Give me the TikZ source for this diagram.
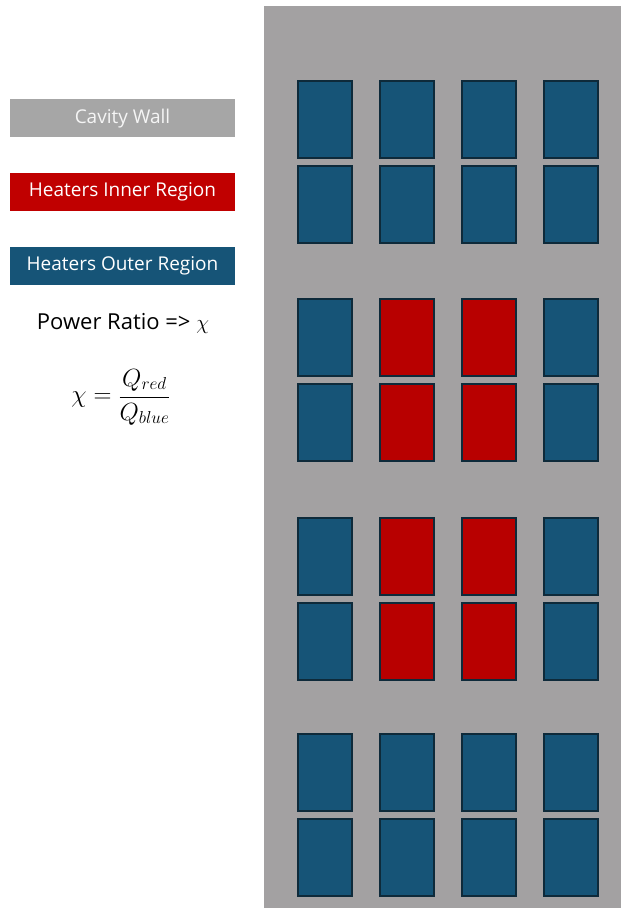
\documentclass[tikz,border=0pt]{standalone}
\usepackage{fontspec}
\setmainfont{Open Sans}
\definecolor{wallgray}{HTML}{A3A1A2}
\definecolor{leggray}{HTML}{A6A6A6}
\definecolor{outerblue}{HTML}{165477}
\definecolor{innerred}{HTML}{B80000}
\definecolor{legred}{HTML}{C00000}
\definecolor{edgedark}{HTML}{0E2A3A}

\begin{document}
\begin{tikzpicture}[x=1pt, y=-1pt,
    heater/.style = {draw=edgedark, line width=2.2pt, rectangle, minimum width=53.8pt, minimum height=76.8pt, inner sep=0pt},
    outer/.style = {heater, fill=outerblue},
    inner/.style = {heater, fill=innerred},
    legend/.style = {rectangle, minimum width=225pt, minimum height=38pt, inner sep=0pt, text=white, font=\fontsize{19}{22}\selectfont}]
    \useasboundingbox (0,0) rectangle (621,909);
    % cavity wall
    \fill[wallgray] (264,6) rectangle (621,908);
    % legend
    \node[legend, fill=leggray, text=white!92!gray] (wall) at (122.5,118.5) {Cavity Wall};
    \node[legend, fill=legred] (red) at (122.5,191.7) {Heaters Inner Region};
    \node[legend, fill=outerblue] (blue) at (122.5,266) {Heaters Outer Region};
    \node[font=\fontsize{22}{26}\selectfont] (ratio) at (123,323) {Power Ratio => $\chi$};
    \node[font=\fontsize{24}{28}\selectfont] (chi) at (121,397) {$\displaystyle \chi = \frac{Q_{red}}{Q_{blue}}$};
    % heaters: group, row, column
    \foreach \g/\gy in {1/80, 2/298, 3/517, 4/733} {
        \foreach \r in {1, 2} {
            \foreach \c/\cx in {1/297, 2/379, 3/461, 4/543} {
                \pgfmathsetmacro{\ty}{\gy + (\r-1)*85 + 39.5}
                \pgfmathsetmacro{\tx}{\cx + 28}
                \ifnum\g=2 \def\kind{inner}\else\ifnum\g=3 \def\kind{inner}\else\def\kind{outer}\fi\fi
                \ifnum\c=1 \def\kind{outer}\fi
                \ifnum\c=4 \def\kind{outer}\fi
                \node[\kind] (h\g\r\c) at (\tx,\ty) {};
            }
        }
    }
\end{tikzpicture}
\end{document}
